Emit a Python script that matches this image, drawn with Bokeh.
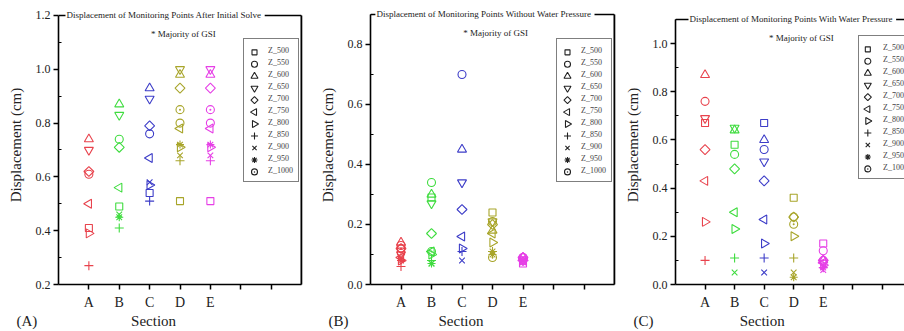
import math
from bokeh.plotting import figure
from bokeh.layouts import row
from bokeh.models import (FixedTicker, Legend, LegendItem, Label, Range1d, Title,
                          LinearAxis)
from bokeh.embed import file_html
from bokeh.resources import INLINE

nan = float("nan")

# ---------------- data ----------------
sections = ["A", "B", "C", "D", "E"]
section_pos = [1, 2, 3, 4, 5]
zones = ["Z_500", "Z_550", "Z_600", "Z_650", "Z_700", "Z_750",
         "Z_800", "Z_850", "Z_900", "Z_950", "Z_1000"]

# (A) After Initial Solve, values per zone (Z_500 ... Z_1000)
initial_A = [0.41, 0.61, 0.74, 0.70, 0.62, 0.50, 0.39, 0.27, nan, nan, nan]
initial_B = [0.49, 0.74, 0.87, 0.83, 0.71, 0.56, nan, 0.41, 0.46, 0.45, nan]
initial_C = [0.54, 0.76, 0.93, 0.89, 0.79, 0.67, 0.57, 0.51, 0.58, nan, nan]
initial_D = [0.51, 0.80, 0.98, 1.00, 0.93, 0.78, 0.71, 0.66, 0.68, 0.72, 0.85]
initial_E = [0.51, 0.80, 0.98, 1.00, 0.93, 0.78, 0.71, 0.66, 0.68, 0.72, 0.85]

# (B) Without Water Pressure
nowater_A = [0.11, 0.13, 0.14, 0.10, 0.12, 0.09, 0.08, 0.06, 0.09, 0.08, 0.12]
nowater_B = [0.29, 0.34, 0.30, 0.27, 0.17, 0.11, 0.10, 0.08, 0.07, 0.07, 0.11]
nowater_C = [nan, 0.70, 0.45, 0.34, 0.25, 0.16, 0.12, 0.11, 0.08, nan, nan]
nowater_D = [0.24, 0.21, 0.18, 0.21, 0.20, 0.17, 0.14, 0.11, 0.11, 0.10, 0.09]
nowater_E = [0.07, 0.09, 0.09, 0.08, 0.09, 0.08, 0.08, 0.08, 0.08, 0.08, 0.09]

# (C) With Water Pressure
water_A = [0.67, 0.76, 0.87, 0.69, 0.56, 0.43, 0.26, 0.10, nan, nan, nan]
water_B = [0.58, 0.54, 0.64, 0.65, 0.48, 0.30, 0.23, 0.11, 0.05, nan, nan]
water_C = [0.67, 0.56, 0.60, 0.51, 0.43, 0.27, 0.17, 0.11, 0.05, nan, nan]
water_D = [0.36, 0.28, nan, nan, 0.28, nan, 0.20, 0.11, 0.05, 0.03, 0.25]
water_E = [0.17, 0.14, 0.10, 0.09, 0.10, 0.09, 0.08, 0.07, 0.06, 0.07, 0.10]

y_ticks_A = [0.2, 0.4, 0.6, 0.8, 1.0, 1.2]
y_ticks_B = [0.0, 0.2, 0.4, 0.6, 0.8]
y_ticks_C = [0.0, 0.2, 0.4, 0.6, 0.8, 1.0]

# ---------------- style / layout ----------------
FONT = "Liberation Serif"
NBSP = "\u00a0"
section_colors = ["#e8434d", "#3fdc3f", "#3d3dc8", "#a8a52a", "#e63fe6"]
marker_styles = [  # (marker, angle, size) for each zone
    ("square", 0.0, 7),
    ("circle", 0.0, 8),
    ("triangle", 0.0, 9),
    ("inverted_triangle", 0.0, 9),
    ("square", math.pi / 4, 7),
    ("triangle", math.pi / 2, 9),
    ("triangle", -math.pi / 2, 9),
    ("cross", 0.0, 9),
    ("x", 0.0, 8),
    ("asterisk", 0.0, 8),
    ("circle_dot", 0.0, 8),
]

H = 331
FRAME_TOP = 5
FRAME_BOTTOM = 285
X_BOX = 8  # right border of each panel (data units)
LEG_PAD = 5
LEG_ROW = 12
LEG_GLYPH = 12


def make_panel(series, ylo, yhi, yticks, title, tag, gap, width,
               b_left, spacing, top_px, x_end, legend_loc,
               title_x, maj_xy, right_border=True):
    # y range so that ylo sits on the frame bottom and yhi at top_px
    per_unit = (FRAME_BOTTOM - top_px) / (yhi - ylo)
    y_top = yhi + (top_px - FRAME_TOP) / per_unit
    frame_w = round(x_end * spacing)
    frame_h = FRAME_BOTTOM - FRAME_TOP
    b_right = width - b_left - frame_w
    p = figure(width=width, height=H, output_backend="svg",
               toolbar_location=None,
               x_range=Range1d(0, x_end), y_range=Range1d(ylo, y_top),
               min_border_left=b_left, min_border_right=b_right,
               min_border_top=FRAME_TOP, min_border_bottom=H - FRAME_BOTTOM)
    p.extra_x_ranges = {"px": Range1d(0, frame_w)}
    p.extra_y_ranges = {"px": Range1d(0, frame_h)}
    p.background_fill_color = "white"
    p.border_fill_color = "white"
    p.outline_line_color = None
    p.grid.visible = False

    # x axis
    xa = p.xaxis[0]
    xa.ticker = FixedTicker(ticks=[1, 2, 3, 4, 5, 6, 7])
    xa.major_label_overrides = {1: "A", 2: "B", 3: "C", 4: "D", 5: "E", 6: "", 7: ""}
    xa.bounds = (0, X_BOX)
    # y axis
    ya = p.yaxis[0]
    minor = [round(t + 0.1, 2) for t in yticks[:-1]]
    if yhi - yticks[-1] > 0.05:
        minor.append(round(yticks[-1] + 0.1, 2))
    ya.ticker = FixedTicker(ticks=yticks, minor_ticks=minor)
    ya.major_label_overrides = {t: f"{t:.1f}" for t in yticks}
    ya.axis_label = "Displacement (cm)"
    ya.bounds = (ylo, yhi)

    for ax in (xa, ya):
        ax.axis_line_width = 1.6
        ax.axis_line_color = "black"
        ax.major_tick_line_width = 1.5
        ax.major_tick_out = 5
        ax.major_tick_in = 0
        ax.minor_tick_line_width = 1.2
        ax.minor_tick_in = 3
        ax.minor_tick_out = 0
        ax.major_label_text_font = FONT
        ax.axis_label_text_font = FONT
        ax.axis_label_text_font_style = "normal"
        ax.axis_label_text_font_size = "15px"
        ax.major_label_text_color = "#222222"
        ax.axis_label_text_color = "#222222"
    xa.major_label_text_font_size = "14px"
    ya.major_label_text_font_size = "12px"
    xa.minor_tick_line_color = None
    xa.major_label_standoff = 5
    ya.major_label_standoff = 3
    ya.axis_label_standoff = 9

    # panel frame: right border as a bare axis, top border as a line
    if right_border:
        ra = LinearAxis(ticker=FixedTicker(ticks=[]), bounds=(ylo, yhi),
                        axis_line_width=1.6, axis_line_color="black",
                        major_tick_line_color=None, minor_tick_line_color=None,
                        major_label_text_font_size="0px",
                        major_label_standoff=0)
        p.add_layout(ra, "right")
    p.segment(x0=[0, X_BOX], y0=[yhi, ylo], x1=[X_BOX, X_BOX], y1=[yhi, yhi],
              line_color="black", line_width=1.6)

    # data markers
    for j, (mk, ang, sz) in enumerate(marker_styles):
        ys = [series[i][j] for i in range(len(sections))]
        p.scatter(x=section_pos, y=ys, marker=mk, angle=ang, size=sz,
                  line_color=section_colors, fill_color=None, line_width=1.1)

    # legend markers (drawn as glyphs so that rotated triangles are kept)
    leg_h = 2 * LEG_PAD + len(zones) * LEG_ROW
    gx = legend_loc[0] + LEG_PAD + LEG_GLYPH / 2
    gtop = legend_loc[1] + leg_h - LEG_PAD
    for j, (mk, ang, sz) in enumerate(marker_styles):
        p.scatter(x=[gx], y=[gtop - LEG_ROW / 2 - LEG_ROW * j],
                  x_range_name="px", y_range_name="px",
                  marker=mk, angle=ang, size=sz - 2,
                  line_color="#222222", fill_color=None, line_width=1.1)

    # legend box and labels
    items = []
    for j, (mk, ang, sz) in enumerate(marker_styles):
        r = p.scatter(x=[nan], y=[nan], marker=mk, size=sz,
                      line_color="#222222", line_alpha=0, fill_color=None)
        items.append(LegendItem(label=zones[j], renderers=[r]))
    lg = Legend(items=items, location=legend_loc)
    lg.label_text_font = FONT
    lg.label_text_font_size = "8px"
    lg.label_text_color = "#444444"
    lg.label_height = LEG_ROW
    lg.glyph_height = LEG_GLYPH
    lg.glyph_width = LEG_GLYPH
    lg.spacing = 0
    lg.padding = LEG_PAD
    lg.margin = 0
    lg.label_standoff = 7
    lg.border_line_color = "black"
    lg.border_line_width = 1
    lg.background_fill_alpha = 0
    p.add_layout(lg)

    # title sitting on the top border
    p.add_layout(Label(x=title_x, y=yhi, text=title, text_font=FONT,
                       text_font_size="9px", text_baseline="middle",
                       text_color="#222222",
                       background_fill_color="white", padding=1))
    p.add_layout(Label(x=maj_xy[0], y=maj_xy[1], text="* Majority of GSI",
                       text_font=FONT, text_font_size="9px",
                       text_align="center", text_baseline="middle",
                       text_color="#222222"))
    # panel tag and x axis title
    p.add_layout(Title(text=tag + NBSP * gap + "Section", align="left",
                       offset=-42, vertical_align="top", standoff=1,
                       text_font=FONT, text_font_size="15px",
                       text_font_style="normal", text_color="#222222"),
                 "below")
    return p


pA = make_panel([initial_A, initial_B, initial_C, initial_D, initial_E],
                0.2, 1.2, y_ticks_A,
                "Displacement of Monitoring Points  After Initial Solve", "(A)", 25,
                309, 58, 30.4, 15, 8, (185, 102),
                0.23, (4.11, 1.131))
pB = make_panel([nowater_A, nowater_B, nowater_C, nowater_D, nowater_E],
                0.0, 0.9, y_ticks_B,
                "Displacement of Monitoring Points  Without Water Pressure", "(B)", 24,
                312, 61, 30.5, 14, 8, (186, 102),
                0.16, (4.1, 0.837))
pC = make_panel([water_A, water_B, water_C, water_D, water_E],
                0.0, 1.1, y_ticks_C,
                "Displacement of Monitoring Points  With Water Pressure", "(C)", 23,
                283, 52, 29.8, 19, 7.75, (183, 105),
                0.44, (4.26, 1.021), right_border=False)

layout = row(pA, pB, pC, spacing=0)
open("out.html", "w").write(file_html(layout, INLINE))
